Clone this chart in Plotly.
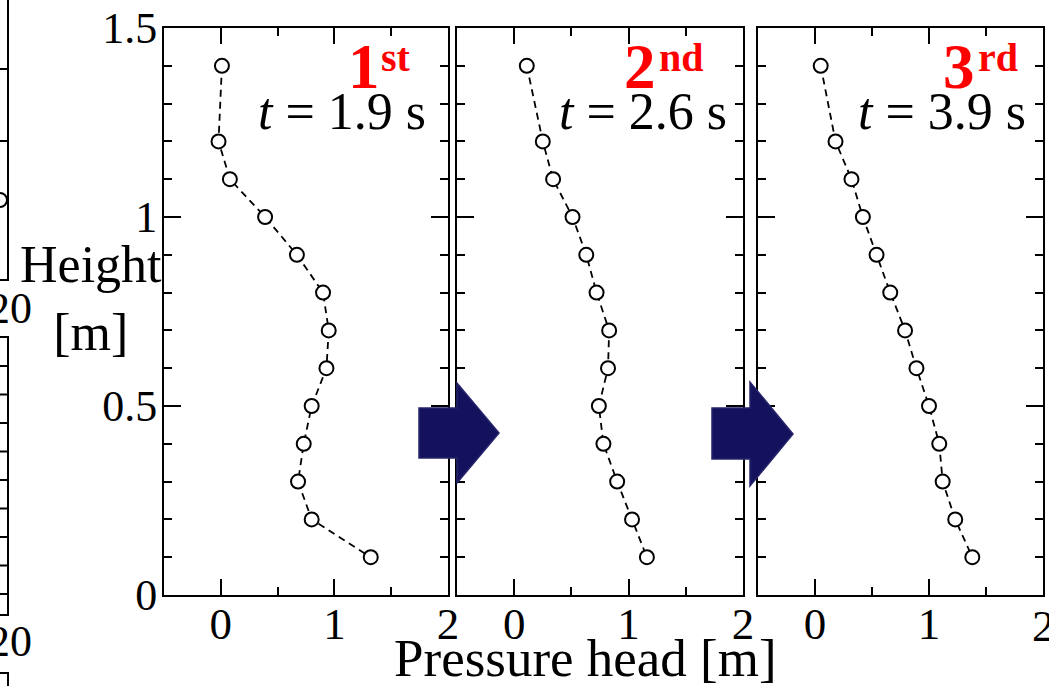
import plotly.graph_objects as go

# ---------------- data ----------------
heights = [1.4, 1.2, 1.1, 1.0, 0.9, 0.8, 0.7, 0.6, 0.5, 0.4, 0.3, 0.2, 0.1]
head_1st = [0.01, -0.02, 0.08, 0.39, 0.67, 0.90, 0.95, 0.93, 0.80, 0.73, 0.68, 0.80, 1.32]
head_2nd = [0.11, 0.25, 0.34, 0.51, 0.63, 0.72, 0.83, 0.82, 0.74, 0.78, 0.90, 1.03, 1.16]
head_3rd = [0.05, 0.18, 0.32, 0.42, 0.54, 0.66, 0.79, 0.89, 1.00, 1.09, 1.12, 1.23, 1.38]
panel_order = ["1", "2", "3"]
panel_suffix = ["st", "nd", "rd"]
panel_times = ["1.9", "2.6", "3.9"]
x_ticks = [0, 1, 2]
y_ticks = [0, 0.5, 1, 1.5]

W, H = 1049, 686
FONT = "Liberation Serif"


def X(px):
    return px / W


def Y(py):
    return 1 - py / H


fig = go.Figure()

series = [head_1st, head_2nd, head_3rd]
x_domains = [(164, 448), (457, 743), (758, 1043)]
y_dom = [Y(595), Y(28)]

for i, vals in enumerate(series):
    xa = "x" if i == 0 else f"x{i+1}"
    ya = "y" if i == 0 else f"y{i+1}"
    fig.add_trace(go.Scatter(
        x=vals, y=heights, xaxis=xa, yaxis=ya, mode="lines+markers",
        line=dict(color="black", width=1.8, dash="7px,5px"),
        marker=dict(symbol="circle", size=14, color="white",
                    line=dict(color="black", width=2)),
        showlegend=False, cliponaxis=False,
    ))

layout = dict(
    width=W, height=H, autosize=False,
    margin=dict(l=0, r=0, t=0, b=0, pad=0, autoexpand=False),
    paper_bgcolor="white", plot_bgcolor="white",
    font=dict(family=FONT, color="black"),
    showlegend=False,
)

for i, (a, b) in enumerate(x_domains):
    sfx = "" if i == 0 else str(i + 1)
    layout["xaxis" + sfx] = dict(
        domain=[X(a), X(b)], range=[-0.5, 2], anchor="y" + sfx,
        tickvals=x_ticks, ticktext=[str(v) for v in x_ticks],
        ticks="inside", ticklen=16, tickwidth=2, tickcolor="black",
        minor=dict(dtick=0.5, tick0=0, ticks="inside", ticklen=8,
                   tickwidth=2, tickcolor="black", showgrid=False),
        showline=True, linewidth=2, linecolor="black", mirror="ticks",
        showgrid=False, zeroline=False, automargin=False,
        ticklabelstandoff=-12,
        tickfont=dict(family=FONT, size=45, color="black"),
        fixedrange=True,
    )
    layout["yaxis" + sfx] = dict(
        domain=y_dom, range=[0, 1.5], anchor="x" + sfx,
        tickvals=y_ticks, ticktext=["0", "0.5", "1", "1.5"],
        ticks="inside", ticklen=17, tickwidth=2, tickcolor="black",
        minor=dict(dtick=0.1, tick0=0, ticks="inside", ticklen=8,
                   tickwidth=2, tickcolor="black", showgrid=False),
        showline=True, linewidth=2, linecolor="black", mirror="ticks",
        showgrid=False, zeroline=False, automargin=False,
        showticklabels=(i == 0), ticklabelstandoff=-4,
        tickfont=dict(family=FONT, size=44, color="black"),
        fixedrange=True,
    )

fig.update_layout(**layout)

annotations = []
# time labels and red panel order labels
t_right = [428, 729, 1028]
num_cx = [364, 640, 959]
suf_left = [379, 657, 976]
for i in range(3):
    annotations.append(dict(
        x=X(t_right[i]), y=Y(112), xref="paper", yref="paper",
        xanchor="right", yanchor="middle", showarrow=False,
        text=f"<i>t</i> = {panel_times[i]} s",
        font=dict(family=FONT, size=52, color="black"),
    ))
    annotations.append(dict(
        x=X(num_cx[i]), y=Y(67), xref="paper", yref="paper",
        xanchor="center", yanchor="middle", showarrow=False,
        text=f"<b>{panel_order[i]}</b>",
        font=dict(family=FONT, size=63, color="#ff0000"),
    ))
    annotations.append(dict(
        x=X(suf_left[i]), y=Y(57), xref="paper", yref="paper",
        xanchor="left", yanchor="middle", showarrow=False,
        text=f"<b>{panel_suffix[i]}</b>",
        font=dict(family=FONT, size=40, color="#ff0000"),
    ))

# last x tick label of panel 3 (cut by the figure edge, plotly hides it)
annotations.append(dict(
    x=x_ticks[-1], y=Y(626), xref="x3", yref="paper",
    xanchor="center", yanchor="middle", showarrow=False,
    text=str(x_ticks[-1]), font=dict(family=FONT, size=45, color="black"),
))

# axis titles
annotations.append(dict(
    x=X(91), y=Y(298), xref="paper", yref="paper",
    xanchor="center", yanchor="middle", showarrow=False,
    text="Height<br>[m]", align="center",
    font=dict(family=FONT, size=52, color="black"),
))
annotations.append(dict(
    x=X(585), y=Y(658), xref="paper", yref="paper",
    xanchor="center", yanchor="middle", showarrow=False,
    text="Pressure head [m]",
    font=dict(family=FONT, size=53, color="black"),
))
# partial neighbour panel tick labels at the left edge
for yy in (308, 641):
    annotations.append(dict(
        x=X(34), y=Y(yy), xref="paper", yref="paper",
        xanchor="right", yanchor="middle", showarrow=False,
        text="20", font=dict(family=FONT, size=44, color="black"),
    ))

shapes = []


def seg(x0, y0, x1, y1, w=2):
    shapes.append(dict(type="line", xref="paper", yref="paper",
                       x0=X(x0), y0=Y(y0), x1=X(x1), y1=Y(y1),
                       line=dict(color="black", width=w)))


# left partial panels (cropped neighbour figure)
seg(8, 0, 8, 281)
seg(-2, 280, 8, 280)
for yy in (69, 141):
    seg(0, yy, 8, yy)
shapes.append(dict(type="circle", xref="paper", yref="paper",
                   x0=X(-7), x1=X(7), y0=Y(193), y1=Y(207),
                   line=dict(color="black", width=2)))
seg(-2, 337, 8, 337)
seg(8, 336, 8, 616)
seg(-2, 615, 8, 615)
for k in range(9):
    yy = 366 + k * 28.5
    seg(0, yy, 8, yy)
seg(-2, 673, 8, 673)
seg(8, 672, 8, 690)

# block arrows between panels
arrows = [
    (419, 457, 499, 408, 458, 383, 483),
    (712, 750, 793, 408, 459, 382, 486),
]
for (bl, hb, tip, bt, bb, ht, hbm) in arrows:
    cy = (ht + hbm) / 2
    pts = [(bl, bt), (hb, bt), (hb, ht), (tip, cy), (hb, hbm), (hb, bb), (bl, bb)]
    path = "M " + " L ".join(f"{X(p):.5f},{Y(q):.5f}" for p, q in pts) + " Z"
    shapes.append(dict(type="path", xref="paper", yref="paper", path=path,
                       fillcolor="#14125c", line=dict(color="#26246c", width=1.5),
                       layer="above"))

fig.update_layout(annotations=annotations, shapes=shapes)

fig.write_html("out.html",
               config={"displayModeBar": False},
               post_script="document.body.style.margin='0px';"
                           "document.body.style.overflow='hidden';")
